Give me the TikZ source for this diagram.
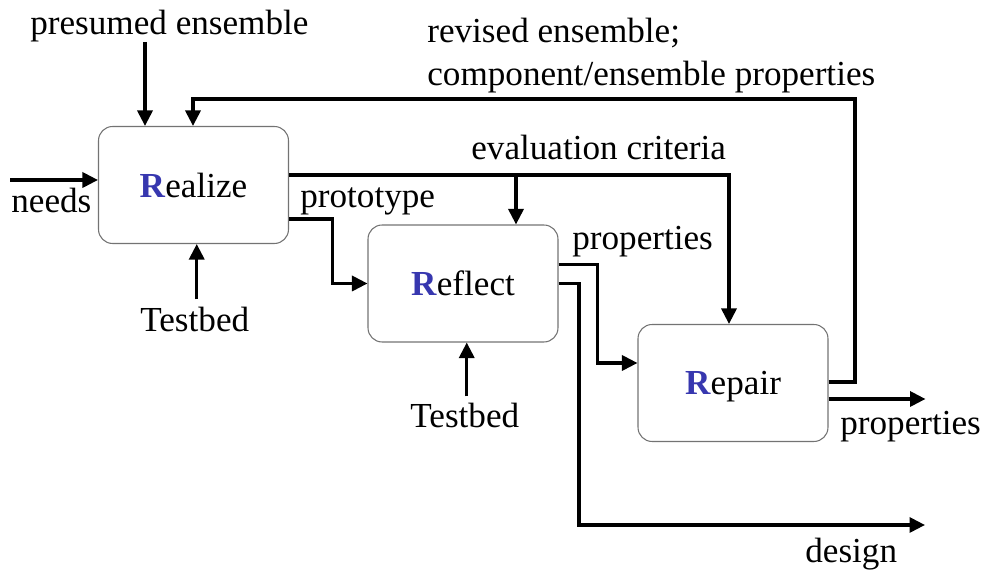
\documentclass[tikz,border=0pt]{standalone}
\usepackage{fontspec}
\setmainfont{Liberation Serif}
\usetikzlibrary{arrows.meta,calc}
\definecolor{rblue}{RGB}{55,55,175}
\tikzset{
    phase/.style={draw=black!55, line width=0.6pt, rounded corners=8pt, minimum width=3.8cm, minimum height=2.34cm, text depth=0pt, inner sep=0pt},
    flow/.style={line width=1.9pt, -{Triangle[length=0.31cm, width=0.3cm]}},
    lbl/.style={anchor=base west, inner sep=0pt},
}
\newcommand{\initR}{\textcolor{rblue}{\textbf{R}}}
\begin{document}
\begin{tikzpicture}[x=0.02cm, y=-0.02cm, font=\fontsize{20}{24}\selectfont]
        \useasboundingbox (0,0) rectangle (985,573);

        \node[phase] (realize) at (193.5,185) {\initR ealize};
        \node[phase] (reflect) at (463,283.5) {\initR eflect};
        \node[phase] (repair) at (733,383) {\initR epair};

        \node[lbl] (presumed) at (30,35) {presumed ensemble};
        \node[lbl] (revised) at (427,43) {revised ensemble;};
        \node[lbl] (compprop) at (427,86) {component/ensemble properties};
        \node[lbl] (needs) at (11,213) {needs};
        \node[lbl] (proto) at (300,208) {prototype};
        \node[lbl] (evalcrit) at (471,160) {evaluation criteria};
        \node[lbl] (testA) at (140,332) {Testbed};
        \node[lbl] (testB) at (410,428) {Testbed};
        \node[lbl] (propA) at (572,250) {properties};
        \node[lbl] (propB) at (840,435) {properties};
        \node[lbl] (design) at (805,563) {design};

        \coordinate (pe) at (145,42);
        \coordinate (fbup) at (855,99);
        \coordinate (fbin) at (193,99);
        \coordinate (needsin) at (10,180);
        \coordinate (ecb) at (516,175);
        \coordinate (ecr) at (729,175);
        \coordinate (dturn) at (579,525);
        \coordinate (dend) at (925,525);

        \draw[flow] (pe) -- (pe |- realize.north);
        \draw[flow] ($(repair.east)+(0,-1)$) -| (fbup) -- (fbin) -- (fbin |- realize.north);
        \draw[flow] (needsin) -- (needsin -| realize.west);
        \draw[flow] ($(realize.east)+(0,-10)$) -- (ecr) -- (ecr |- repair.north);
        \draw[flow] (ecb) -- (ecb |- reflect.north);
        \draw[flow] ($(realize.east)+(0,34)$) -| ($(reflect.west)+(-35,0)$) -- (reflect.west);
        \draw[flow] ($(testA.north)+(2,-8)$) coordinate (tA) -- (tA |- realize.south);
        \draw[flow] ($(testB.north)+(2,-7)$) coordinate (tB) -- (tB |- reflect.south);
        \draw[flow] ($(reflect.east)+(0,-19)$) -| ($(repair.west)+(-40,-20)$) -- ($(repair.west)+(0,-20)$);
        \draw[flow] (reflect.east) -| (dturn) -- (dend);
        \draw[flow] ($(repair.east)+(0,16)$) -- ++(97,0);
\end{tikzpicture}
\end{document}
